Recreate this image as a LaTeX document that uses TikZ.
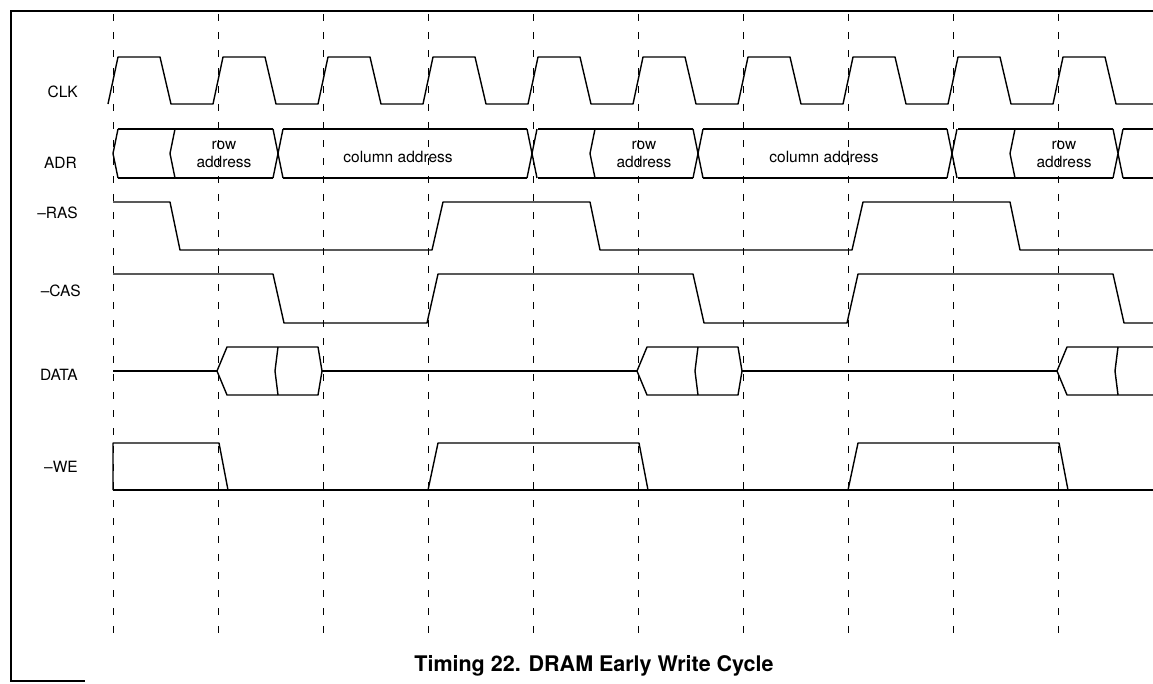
\documentclass[tikz,border=0pt]{standalone}
\usepackage{fontspec}
\setmainfont{TeX Gyre Heros}
\usepackage{tikz}
\tikzset{
  wave/.style={line width=1.4pt, line join=round},
  cycline/.style={line width=1pt, dash pattern=on 7pt off 11pt},
  sig/.style={anchor=base east, inner sep=0pt, font=\fontsize{15.5}{18}\selectfont},
  bus/.style={align=center, inner sep=0pt, font=\fontsize{15.5}{18}\selectfont}
}

\begin{document}
\begin{tikzpicture}[x=1pt,y=-1pt]
  \useasboundingbox (0,0) rectangle (1153,683);
  \clip (0,0) rectangle (1153,683);

  % frame
  \draw[line width=1.3pt] (1153,11) -- (11,11) -- (11,681) -- (85,681);

  % clock cycles
  \foreach \i in {0,...,9}
    \draw[cycline] (113+105*\i,14) -- (113+105*\i,640);

  % signal names
  \node[sig] (clk)  at (78,97)  {CLK};
  \node[sig] (adr)  at (77,168) {ADR};
  \node[sig] (ras)  at (78,218) {--RAS};
  \node[sig] (cas)  at (81,296) {--CAS};
  \node[sig] (data) at (78,380) {DATA};
  \node[sig] (we)   at (78,472) {--WE};

  % CLK
  \draw[wave] (108,104) \foreach \i in {0,...,9} { -- ++(10,-47) -- ++(42,0) -- ++(11,47) -- ++(42,0) };

  % ADR
  \draw[wave] (118,129) -- (113,153.5) -- (118,178);
  \foreach \b [count=\k] in {113,533,953} {
    \draw[wave] (\b+5,129) -- (\b+160,129) (\b+170,129) -- (\b+414,129)
                (\b+5,178) -- (\b+160,178) (\b+170,178) -- (\b+414,178);
    \draw[wave] (\b+160,129) -- (\b+170,178) (\b+160,178) -- (\b+170,129);
    \draw[wave] (\b+414,129) -- (\b+424,178) (\b+414,178) -- (\b+424,129);
    \draw[wave] (\b+62,129) -- (\b+57,153.5) -- (\b+62,178);
    \node[bus] (row\k) at (\b+111,154) {row\\address};
  }
  \node[bus, anchor=base] (col1) at (398,162) {column address};
  \node[bus, anchor=base] (col2) at (824,162) {column address};

  % -RAS
  \draw[wave] (113,202) \foreach \b in {113,533,953} { -- (\b+57,202) -- (\b+67,250) -- (\b+319,250) -- (\b+330,202) };

  % -CAS
  \draw[wave] (113,274) \foreach \b in {113,533,953} { -- (\b+160,274) -- (\b+171,323) -- (\b+314,323) -- (\b+325,274) };

  % DATA
  \draw[wave] (113,371) -- (217,371);
  \foreach \b in {113,533,953} {
    \draw[wave] (\b+104,371) -- (\b+114,347) -- (\b+205,347) -- (\b+209,371) -- (\b+205,395) -- (\b+114,395) -- cycle;
    \draw[wave] (\b+165,347) -- (\b+162,371) -- (\b+165,395);
    \draw[wave] (\b+209,371) -- (\b+524,371);
  }

  % -WE
  \draw[wave] (113,490) -- (1153,490);
  \draw[wave] (113,490) -- (113,443) \foreach \b in {113,533,953} { -- (\b+106,443) -- (\b+115,490) -- (\b+315,490) -- (\b+325,443) };

  \node[font=\fontsize{21.5}{26}\selectfont\bfseries, anchor=base] (title) at (594,671) {Timing 22. DRAM Early Write Cycle};
\end{tikzpicture}
\end{document}
